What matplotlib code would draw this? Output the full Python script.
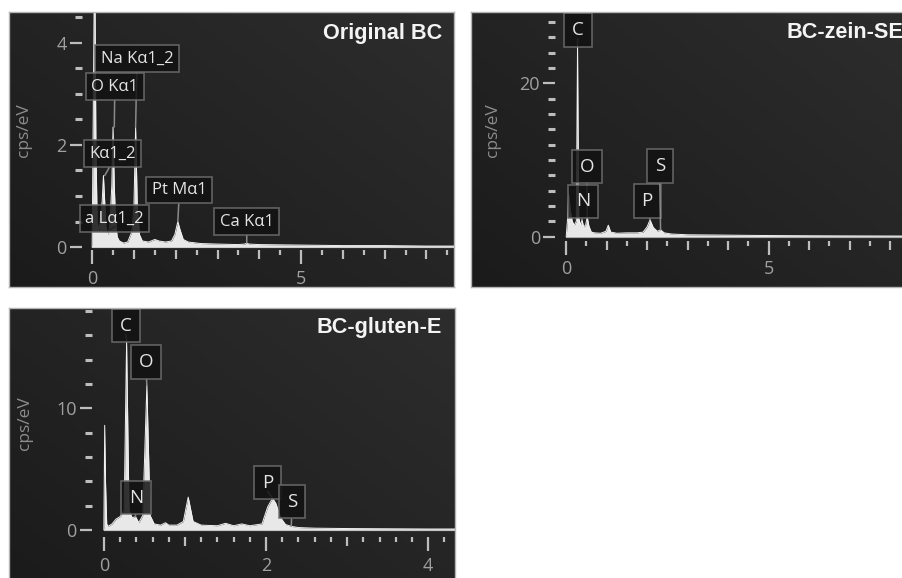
import numpy as np
import matplotlib
matplotlib.use("Agg")
import matplotlib.pyplot as plt
from matplotlib.ticker import FixedLocator, NullFormatter, FixedFormatter

# ============================================================
# DATA
# ============================================================

# Original BC spectrum (keV, cps/eV)
bc_energy = [0.0, 0.03, 0.06, 0.09, 0.12, 0.16, 0.20, 0.24, 0.27, 0.30, 0.33, 0.37,
             0.42, 0.47, 0.50, 0.53, 0.56, 0.60, 0.65, 0.75, 0.85, 0.95, 1.00, 1.04,
             1.08, 1.13, 1.20, 1.35, 1.50, 1.60, 1.75, 1.90, 1.98, 2.05, 2.10, 2.18,
             2.30, 2.60, 3.00, 3.50, 3.65, 3.70, 3.75, 4.00, 5.00, 6.00, 7.00, 8.00, 8.70]
bc_cps = [0.0, 3.0, 6.0, 2.0, 0.5, 0.3, 0.6, 0.9, 1.4, 0.9, 0.4, 0.25,
          0.4, 1.2, 2.35, 1.2, 0.5, 0.2, 0.12, 0.08, 0.1, 0.3, 0.8, 2.35,
          0.8, 0.25, 0.12, 0.1, 0.15, 0.12, 0.1, 0.12, 0.25, 0.5, 0.35, 0.15,
          0.1, 0.07, 0.06, 0.05, 0.06, 0.08, 0.06, 0.05, 0.04, 0.03, 0.03, 0.02, 0.02]

# BC-zein-SE spectrum
zein_energy = [0.0, 0.03, 0.06, 0.10, 0.15, 0.20, 0.25, 0.28, 0.31, 0.35, 0.39, 0.43,
               0.48, 0.52, 0.56, 0.62, 0.70, 0.85, 0.98, 1.04, 1.10, 1.25, 1.50, 1.75,
               1.90, 2.00, 2.07, 2.15, 2.25, 2.33, 2.42, 2.60, 3.00, 4.00, 5.00, 6.00,
               7.00, 8.40]
zein_cps = [0.0, 2.0, 5.6, 3.5, 2.0, 1.5, 2.0, 25.0, 2.5, 1.5, 2.2, 1.3,
            1.5, 2.6, 1.4, 0.6, 0.5, 0.45, 0.7, 1.5, 0.6, 0.45, 0.5, 0.5,
            0.6, 1.3, 2.2, 1.2, 0.7, 0.9, 0.5, 0.35, 0.25, 0.2, 0.15, 0.12,
            0.1, 0.08]

# BC-gluten-E spectrum
gluten_energy = [0.0, 0.01, 0.02, 0.035, 0.05, 0.10, 0.15, 0.20, 0.25, 0.28, 0.31, 0.35,
                 0.39, 0.43, 0.48, 0.53, 0.57, 0.62, 0.70, 0.76, 0.80, 0.90, 0.98, 1.04,
                 1.10, 1.20, 1.40, 1.50, 1.60, 1.70, 1.80, 1.95, 2.02, 2.08, 2.12, 2.18,
                 2.24, 2.31, 2.40, 2.60, 3.00, 3.50, 4.00, 4.40]
gluten_cps = [0.0, 8.6, 4.0, 0.5, 0.3, 0.5, 0.9, 1.1, 1.6, 15.5, 1.6, 1.0,
              1.1, 0.6, 1.2, 11.9, 1.2, 0.5, 0.4, 0.6, 0.4, 0.4, 0.7, 2.7,
              0.7, 0.4, 0.35, 0.55, 0.35, 0.5, 0.35, 0.5, 1.9, 2.6, 2.2, 1.0,
              0.45, 0.3, 0.2, 0.15, 0.12, 0.1, 0.08, 0.08]

# peak labels: (text, box position, peak position)
bc_labels = [("Na Kα1_2", (1.07, 3.69), (1.04, 2.35)),
             ("O Kα1", (0.54, 3.14), (0.53, 2.35)),
             ("Kα1_2", (0.49, 1.83), (0.30, 1.40)),
             ("a Lα1_2", (0.54, 0.56), (0.34, 0.30)),
             ("Pt Mα1", (2.08, 1.12), (2.05, 0.50)),
             ("Ca Kα1", (3.70, 0.50), (3.70, 0.08))]
zein_labels = [("C", (0.285, 27.0), (0.28, 25.0)),
               ("O", (0.51, 9.15), (0.52, 2.6)),
               ("N", (0.41, 4.6), (0.39, 2.2)),
               ("P", (2.00, 4.7), (2.07, 2.2)),
               ("S", (2.31, 9.2), (2.33, 0.9))]
gluten_labels = [("C", (0.27, 16.8), (0.28, 15.5)),
                 ("O", (0.52, 13.8), (0.53, 11.9)),
                 ("N", (0.395, 2.67), (0.39, 1.1)),
                 ("P", (2.02, 3.9), (2.08, 2.6)),
                 ("S", (2.32, 2.34), (2.31, 0.3))]

TITLES = ("Original BC", "BC-zein-SE", "BC-gluten-E")

# ============================================================
# STYLE
# ============================================================

W, H = 903, 578
BG_FILL = "#e8e8e8"
TICK_C = "#bdbdbd"
LABEL_C = "#a0a0a0"
UI_FONT = ["Open Sans", "DejaVu Sans"]


def px(x0, y0, x1, y1):
    # pixel box -> figure fraction rect
    return [x0 / W, 1 - y1 / H, (x1 - x0) / W, (y1 - y0) / H]


def gradient_bg(ax):
    g = np.linspace(0, 1, 200)
    gx, gy = np.meshgrid(g, g)
    z = 0.55 * gx + 0.45 * gy
    ax.imshow(z, extent=[0, 1, 0, 1], transform=ax.transAxes, origin="lower",
              cmap=matplotlib.colors.LinearSegmentedColormap.from_list(
                  "bg", ["#1b1b1b", "#2d2d2d"]),
              aspect="auto", zorder=0, interpolation="bilinear")


def draw_panel(ax, energy, cps, labels, xlim, ylim, xmajor, xminor_step, medium,
               ymajor, yminor_step, yspine, xspine, lab_size=11.5, lab_pad=0.3,
               frame_sides=("l", "r", "t", "b")):
    ax.set_facecolor("#222222")
    gradient_bg(ax)
    ax.fill_between(energy, 0, cps, color=BG_FILL, lw=0, zorder=3)
    ax.plot(energy, cps, color="#f2f2f2", lw=0.7, zorder=3)
    ax.hlines(0, energy[0], energy[-1], color="#a0a0a0", lw=1.6, zorder=2)

    for s in ax.spines.values():
        s.set_visible(False)
    ax.spines["left"].set_position(("data", yspine))
    ax.spines["bottom"].set_position(("data", xspine))

    ax.set_xlim(*xlim)
    ax.set_ylim(*ylim)

    ax.xaxis.set_major_locator(FixedLocator(xmajor))
    ax.xaxis.set_major_formatter(FixedFormatter([f"{v:g}" for v in xmajor]))
    ax.xaxis.set_minor_locator(FixedLocator(np.arange(0, xlim[1], xminor_step)))
    ax.xaxis.set_minor_formatter(NullFormatter())
    ax.yaxis.set_major_locator(FixedLocator(ymajor))
    ax.yaxis.set_major_formatter(FixedFormatter([f"{v:g}" for v in ymajor]))
    ax.yaxis.set_minor_locator(FixedLocator(np.arange(0, ylim[1], yminor_step)))
    ax.yaxis.set_minor_formatter(NullFormatter())

    ax.tick_params(axis="x", which="major", direction="out", length=10, width=1.6,
                   color=TICK_C, labelcolor=LABEL_C, labelsize=13, pad=4)
    ax.tick_params(axis="x", which="minor", direction="out", length=3.8, width=1.6,
                   color=TICK_C)
    ax.tick_params(axis="y", which="major", direction="out", length=9, width=1.6,
                   color=TICK_C, labelcolor=LABEL_C, labelsize=13, pad=2)
    ax.tick_params(axis="y", which="minor", direction="out", length=5, width=2.2,
                   color=TICK_C)
    for lab in ax.get_xticklabels() + ax.get_yticklabels():
        lab.set_family(UI_FONT)

    locs = ax.xaxis.get_minorticklocs()
    for loc, t in zip(locs, ax.xaxis.get_minor_ticks(len(locs))):
        if any(abs(loc - m) < 1e-6 for m in medium):
            t.tick1line.set_markersize(6.5)

    for text, box, peak in labels:
        ax.annotate(text, xy=peak, xytext=box, ha="center", va="center",
                    fontsize=lab_size, family=UI_FONT, color="#e4e4e4", zorder=5,
                    bbox=dict(boxstyle=f"square,pad={lab_pad}", fc="#121212",
                              ec="#6e6e6e", lw=1.2, alpha=0.85),
                    arrowprops=dict(arrowstyle="-", color="#8a8a8a", lw=1.1,
                                    shrinkA=0, shrinkB=0, relpos=(0.5, 0)))

    sides = {"l": [(0, 0), (0, 1)], "r": [(1, 1), (0, 1)],
             "t": [(0, 1), (1, 1)], "b": [(0, 1), (0, 0)]}
    for s in frame_sides:
        xs, ys = sides[s]
        ax.plot(xs, ys, transform=ax.transAxes, color="#b4b4b4", lw=1.0,
                clip_on=False, zorder=6)


fig = plt.figure(figsize=(W / 100, H / 100), dpi=100)
fig.patch.set_facecolor("white")

# Original BC
ax1 = fig.add_axes(px(9, 12, 454, 287))
draw_panel(ax1, bc_energy, bc_cps, bc_labels, (-1.99, 8.66), (-0.78, 4.6),
           [0, 5], 0.5, [1, 2, 3, 4, 6, 7, 8], [0, 2, 4], 0.5, -0.24, -0.06,
           lab_size=12, lab_pad=0.32)

# BC-zein-SE (cut at the right edge)
ax2 = fig.add_axes(px(471, 12, 906, 287))
draw_panel(ax2, zein_energy, zein_cps, zein_labels, (-2.35, 8.39), (-6.56, 29.3),
           [0, 5], 0.5, [1, 2, 3, 4, 6, 7, 8], [0, 20], 2, -0.27, -0.5,
           lab_size=13.5, lab_pad=0.42, frame_sides=("l", "t", "b"))

# BC-gluten-E (cut at the bottom edge)
ax3 = fig.add_axes(px(9, 308, 455, 581))
draw_panel(ax3, gluten_energy, gluten_cps, gluten_labels, (-1.17, 4.33), (-4.19, 18.24),
           [0, 2, 4], 0.2, [1, 3], [0, 10], 2, -0.15, -0.58,
           lab_size=13.5, lab_pad=0.42, frame_sides=("l", "r", "t"))

# titles and y labels (figure pixel positions)
title_pos = [(442, 33), (903, 32), (442, 327)]
ylab_pos = [(24, 130), (493, 130), (25, 423)]
for t, (x, y) in zip(TITLES, title_pos):
    fig.text(x / W, 1 - y / H, t, ha="right", va="center", fontsize=15.6,
             fontweight="bold", family="Liberation Sans", color="#f4f4f4")
for x, y in ylab_pos:
    fig.text(x / W, 1 - y / H, "cps/eV", ha="center", va="center", rotation=90,
             fontsize=12.5, family=UI_FONT, color="#8c8c8c")

fig.savefig("out.png", dpi=100, facecolor="white")
